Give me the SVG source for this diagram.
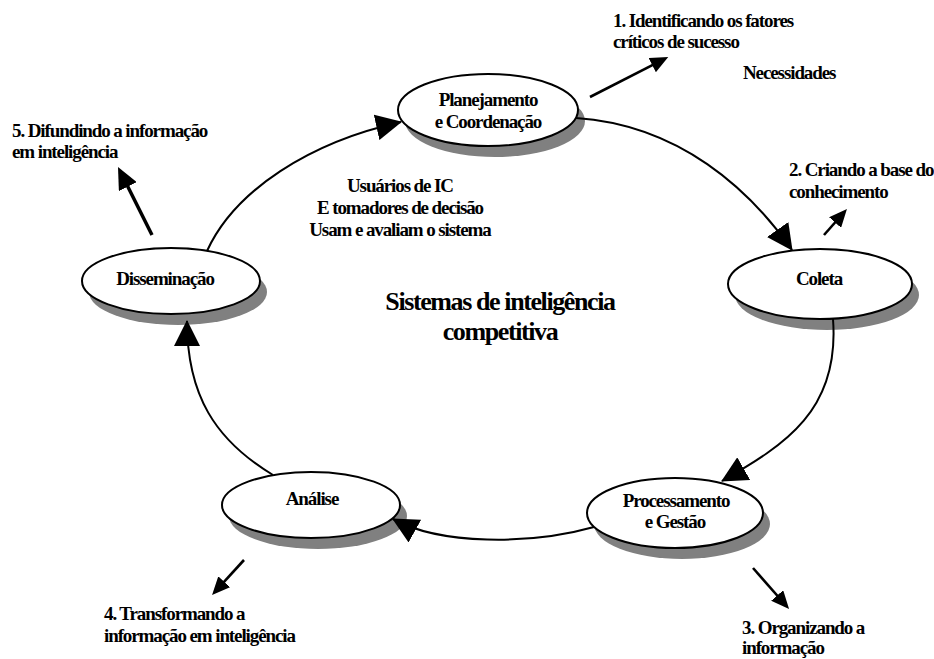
<svg xmlns="http://www.w3.org/2000/svg" width="934" height="659" viewBox="0 0 934 659">
<style>
text{font-family:'Liberation Serif','Times New Roman',serif;font-weight:700;font-size:19px;letter-spacing:-1.1px;fill:#000}
.c{text-anchor:middle}
.big{font-size:26px;letter-spacing:-1.4px}
.sh{fill:#808080}
.el{fill:#fff;stroke:#000;stroke-width:2}
.arc{fill:none;stroke:#000;stroke-width:2}
.ar{fill:none;stroke:#000;stroke-width:2.6}
</style>
<defs>
<marker id="big" markerUnits="userSpaceOnUse" viewBox="0 0 26 26" markerWidth="26" markerHeight="26" refX="25" refY="13" orient="auto"><path d="M0,0 L26,13 L0,26 z" fill="#000"/></marker>
<marker id="sm" markerUnits="userSpaceOnUse" viewBox="0 0 18 16" markerWidth="18" markerHeight="16" refX="4" refY="8" orient="auto"><path d="M0,0 L18,8 L0,16 z" fill="#000"/></marker>
<marker id="md" markerUnits="userSpaceOnUse" viewBox="0 0 22 20" markerWidth="22" markerHeight="20" refX="5" refY="10" orient="auto"><path d="M0,0 L22,10 L0,20 z" fill="#000"/></marker>
</defs>
<rect width="934" height="659" fill="#fff"/>

<g id="n-planejamento">
<ellipse class="sh" cx="495" cy="121" rx="90" ry="36"/>
<ellipse class="el" cx="488" cy="110" rx="90" ry="36"/>
<text class="c" x="488" y="106">Planejamento</text>
<text class="c" x="488" y="128">e Coordenação</text>
</g>
<g id="n-coleta">
<ellipse class="sh" cx="827" cy="295" rx="92" ry="35"/>
<ellipse class="el" cx="820" cy="284" rx="92" ry="35"/>
<text class="c" x="819" y="285">Coleta</text>
</g>
<g id="n-processamento">
<ellipse class="sh" cx="682" cy="524" rx="88" ry="35"/>
<ellipse class="el" cx="675" cy="513" rx="88" ry="35"/>
<text class="c" x="676" y="507">Processamento</text>
<text class="c" x="675" y="528">e Gestão</text>
</g>
<g id="n-analise">
<ellipse class="sh" cx="318" cy="516" rx="89" ry="33"/>
<ellipse class="el" cx="311" cy="505" rx="89" ry="33"/>
<text class="c" x="312" y="505">Análise</text>
</g>
<g id="n-disseminacao">
<ellipse class="sh" cx="178" cy="292" rx="89" ry="33"/>
<ellipse class="el" cx="171" cy="281" rx="89" ry="33"/>
<text class="c" x="165" y="285">Disseminação</text>
</g>

<g id="connectors">
<path class="arc" d="M576,118 C680,125 750,190 792,250" marker-end="url(#big)"/>
<path class="arc" d="M833,319 C840,410 785,445 722,481" marker-end="url(#big)"/>
<path class="arc" d="M594,527 C530,545 440,545 393,519" marker-end="url(#big)"/>
<path class="arc" d="M273,475 C215,440 187,395 187,321" marker-end="url(#big)"/>
<path class="arc" d="M207,251 C235,190 310,142 401,122" marker-end="url(#big)"/>
<path class="ar" d="M590,97 L655.8,63.3" marker-end="url(#sm)"/>
<path class="ar" d="M824,235 L837.7,219.5" marker-end="url(#sm)"/>
<path class="ar" d="M753,568 L779.8,598.5" marker-end="url(#sm)"/>
<path class="ar" d="M244,560 L221.5,584.7" marker-end="url(#sm)"/>
<path class="ar" style="stroke-width:3.5" d="M152,235 L125.6,182.2" marker-end="url(#md)"/>
</g>

<g id="labels">
<text x="613" y="27">1. Identificando os fatores</text>
<text x="613" y="48">críticos de sucesso</text>
<text x="743" y="79">Necessidades</text>
<text x="789" y="176">2. Criando a base do</text>
<text x="789" y="198">conhecimento</text>
<text x="742" y="634">3. Organizando a</text>
<text x="742" y="654">informação</text>
<text x="104" y="620">4. Transformando a</text>
<text x="104" y="642">informação em inteligência</text>
<text x="12" y="137">5. Difundindo a informação</text>
<text x="12" y="158">em inteligência</text>
<text class="c" x="400" y="192">Usuários de IC</text>
<text class="c" x="400" y="214">E tomadores de decisão</text>
<text class="c" x="400" y="236">Usam e avaliam o sistema</text>
<text class="c big" x="500" y="310">Sistemas de inteligência</text>
<text class="c big" x="500" y="340">competitiva</text>
</g>
</svg>
